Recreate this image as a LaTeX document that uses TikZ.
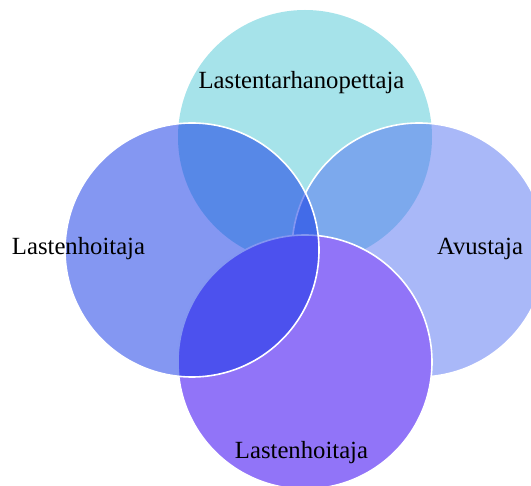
\documentclass[tikz,border=0pt]{standalone}
\usepackage{fontspec}
\setmainfont{Liberation Serif}
\definecolor{cT}{RGB}{166,227,234}
\definecolor{cR}{RGB}{83,113,241}
\definecolor{cB}{RGB}{145,116,248}
\definecolor{cL}{RGB}{9,47,229}
\begin{document}
\begin{tikzpicture}[x=1pt,y=-1pt,
  ring/.style={circle,inner sep=0pt,minimum size=254pt},
  rimmed/.style={ring,draw=white,line width=1.6pt},
  lbl/.style={anchor=base,inner sep=0pt,font=\fontsize{24.7}{30}\selectfont,text=black}]
\useasboundingbox (0,0) rectangle (531,486);
\clip (0,0) rectangle (531,486);
\node[ring,fill=cT] (top) at (305,137) {};
\node[rimmed,fill=cR,fill opacity=0.5] (right) at (419,250) {};
\node[rimmed,fill=cB] (bottom) at (305,362) {};
\node[rimmed,fill=cL,fill opacity=0.5] (left) at (192,250) {};
\node[lbl] (ttop) at (301.5,89) {Lastentarhanopettaja};
\node[lbl] (tleft) at (78.5,255) {Lastenhoitaja};
\node[lbl] (tright) at (480,255) {Avustaja};
\node[lbl] (tbottom) at (301.5,459) {Lastenhoitaja};
\end{tikzpicture}
\end{document}
